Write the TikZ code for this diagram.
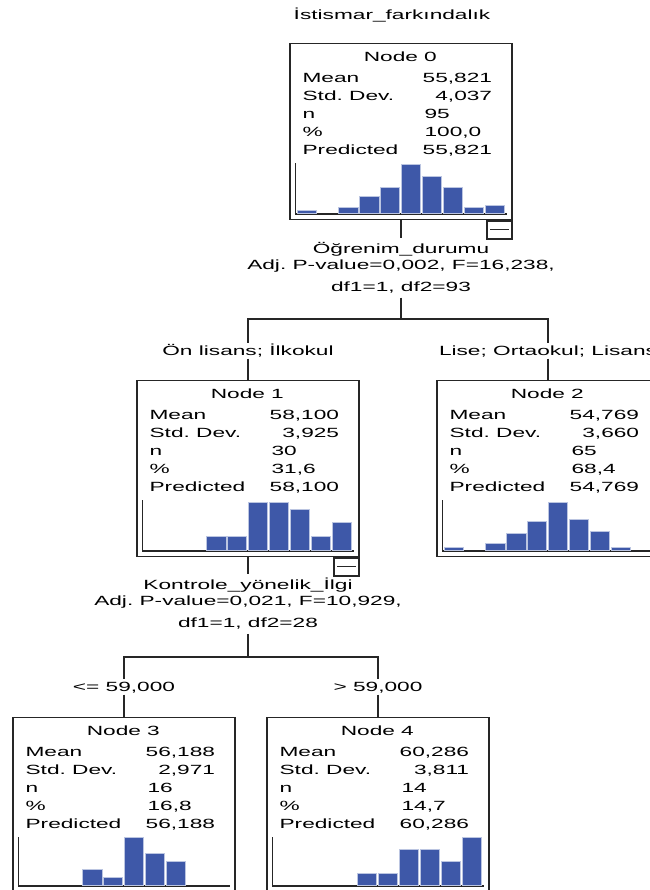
\documentclass[tikz,border=0pt]{standalone}
\usepackage{fontspec}
\setmainfont{Liberation Sans}[FakeStretch=1.7]
\usetikzlibrary{positioning}
\definecolor{barblue}{RGB}{62,88,168}
\frenchspacing

\begin{document}
\begin{tikzpicture}[
  x=0.75pt, y=-0.75pt,
  font=\fontsize{10}{12}\selectfont,
  box/.style   ={draw=black!85, line width=1pt, minimum width=166.5pt, minimum height=132pt, anchor=north, inner sep=0pt},
  minus/.style ={draw=black!85, line width=0.9pt, minimum width=18.75pt, minimum height=13.5pt, anchor=north east, inner sep=0pt,
                 path picture={\draw[line width=0.8pt] ([xshift=2.5pt]path picture bounding box.west) -- ([xshift=-2.5pt]path picture bounding box.east);}},
  txt/.style   ={inner sep=0pt, text height=7.2pt, text depth=0pt},
  ttl/.style   ={txt},
  key/.style   ={txt, anchor=west},
  val/.style   ={txt, anchor=east},
  cnt/.style   ={txt, anchor=west},
  cond/.style  ={txt, inner sep=2pt},
  split/.style ={align=center, inner sep=3pt},
  edge/.style  ={draw=black!85, line width=1pt},
  axis/.style  ={draw=black!85, line width=0.8pt},
  bar/.style   ={fill=barblue, draw=barblue!35, line width=0.4pt}
]

\fill[white] (0,0) rectangle (650,890);
\useasboundingbox (0,0) rectangle (650,890);
\clip (0,0) rectangle (650,890);

% ---- Root ---------------------------------------------------------------------
\node[txt] (title) at (392,15) {İstismar\_farkındalık};
\node[box] (n0) at (401,43) {};
\node[minus] (m0) at (n0.south east) {};

\begin{scope}[shift={(n0.north west)}]
  \node[ttl] (t0) at (111,14) {Node 0};
  \foreach \lab [count=\i] in {Mean,Std. Dev.,n,\%,Predicted}
    \node[key] (k0-\i) at (13,17+18*\i) {\lab};
  \node[val] (v0-1) at (203,35)  {55,821};
  \node[val] (v0-2) at (203,53)  {4,037};
  \node[cnt] (v0-3) at (135,71)  {95};
  \node[cnt] (v0-4) at (135,89)  {100,0};
  \node[val] (v0-5) at (203,107) {55,821};
  \draw[axis] (6,120) -- (6,171) -- (218,171);
  \foreach \b/\h in {0/2.7,2/6,3/16.7,4/25.7,5/49,6/36.7,7/25.7,8/6,9/7.7}
    \draw[bar] (7.5+20.9*\b,170) rectangle ++(19.3,-\h);
\end{scope}

% ---- First split --------------------------------------------------------------
\node[split] (s0) at (401,268) {Öğrenim\_durumu\\Adj. P-value=0,002, F=16,238,\\[4.5pt]df1=1, df2=93};
\coordinate (j0) at (401,319);
\node[cond] (b1) at (248,351) {Ön lisans; İlkokul};
\node[cond] (b2) at (548,351) {Lise; Ortaokul; Lisans};

\draw[edge] (n0.south) -- (s0.north);
\draw[edge] (s0.south) -- (j0) -| (b1.north);
\draw[edge] (j0) -| (b2.north);

\node[box] (n1) at (248,380) {};
\node[minus] (m1) at (n1.south east) {};
\node[box] (n2) at (548,380) {};
\draw[edge] (b1.south) -- (n1.north);
\draw[edge] (b2.south) -- (n2.north);

\begin{scope}[shift={(n1.north west)}]
  \node[ttl] (t1) at (111,14) {Node 1};
  \foreach \lab [count=\i] in {Mean,Std. Dev.,n,\%,Predicted}
    \node[key] (k1-\i) at (13,17+18*\i) {\lab};
  \node[val] (v1-1) at (203,35)  {58,100};
  \node[val] (v1-2) at (203,53)  {3,925};
  \node[cnt] (v1-3) at (135,71)  {30};
  \node[cnt] (v1-4) at (135,89)  {31,6};
  \node[val] (v1-5) at (203,107) {58,100};
  \draw[axis] (6,120) -- (6,171) -- (218,171);
  \foreach \b/\h in {3/13.7,4/13.7,5/48,6/48,7/41.1,8/13.7,9/27.4}
    \draw[bar] (7.5+20.9*\b,170) rectangle ++(19.3,-\h);
\end{scope}

\begin{scope}[shift={(n2.north west)}]
  \node[ttl] (t2) at (111,14) {Node 2};
  \foreach \lab [count=\i] in {Mean,Std. Dev.,n,\%,Predicted}
    \node[key] (k2-\i) at (13,17+18*\i) {\lab};
  \node[val] (v2-1) at (203,35)  {54,769};
  \node[val] (v2-2) at (203,53)  {3,660};
  \node[cnt] (v2-3) at (135,71)  {65};
  \node[cnt] (v2-4) at (135,89)  {68,4};
  \node[val] (v2-5) at (203,107) {54,769};
  \draw[axis] (6,120) -- (6,171) -- (218,171);
  \foreach \b/\h in {0/2.4,2/7.2,3/16.8,4/28.8,5/48,6/31.2,7/19.2,8/2.4}
    \draw[bar] (7.5+20.9*\b,170) rectangle ++(19.3,-\h);
\end{scope}

% ---- Second split -------------------------------------------------------------
\node[split] (s1) at (248,604) {Kontrole\_yönelik\_İlgi\\Adj. P-value=0,021, F=10,929,\\[4.5pt]df1=1, df2=28};
\coordinate (j1) at (248,657);
\node[cond] (b3) at (124,687) {<= 59,000};
\node[cond] (b4) at (378,687) {> 59,000};

\draw[edge] (n1.south) -- (s1.north);
\draw[edge] (s1.south) -- (j1) -| (b3.north);
\draw[edge] (j1) -| (b4.north);

\node[box] (n3) at (124,717) {};
\node[box] (n4) at (378,717) {};
\draw[edge] (b3.south) -- (n3.north);
\draw[edge] (b4.south) -- (n4.north);

\begin{scope}[shift={(n3.north west)}]
  \node[ttl] (t3) at (111,14) {Node 3};
  \foreach \lab [count=\i] in {Mean,Std. Dev.,n,\%,Predicted}
    \node[key] (k3-\i) at (13,17+18*\i) {\lab};
  \node[val] (v3-1) at (203,35)  {56,188};
  \node[val] (v3-2) at (203,53)  {2,971};
  \node[cnt] (v3-3) at (135,71)  {16};
  \node[cnt] (v3-4) at (135,89)  {16,8};
  \node[val] (v3-5) at (203,107) {56,188};
  \draw[axis] (6,120) -- (6,169) -- (218,169);
  \foreach \b/\h in {3/16,4/8,5/48,6/32,7/24}
    \draw[bar] (7.5+20.9*\b,168) rectangle ++(19.3,-\h);
\end{scope}

\begin{scope}[shift={(n4.north west)}]
  \node[ttl] (t4) at (111,14) {Node 4};
  \foreach \lab [count=\i] in {Mean,Std. Dev.,n,\%,Predicted}
    \node[key] (k4-\i) at (13,17+18*\i) {\lab};
  \node[val] (v4-1) at (203,35)  {60,286};
  \node[val] (v4-2) at (203,53)  {3,811};
  \node[cnt] (v4-3) at (135,71)  {14};
  \node[cnt] (v4-4) at (135,89)  {14,7};
  \node[val] (v4-5) at (203,107) {60,286};
  \draw[axis] (6,120) -- (6,169) -- (218,169);
  \foreach \b/\h in {4/12,5/12,6/36,7/36,8/24,9/48}
    \draw[bar] (7.5+20.9*\b,168) rectangle ++(19.3,-\h);
\end{scope}

\end{tikzpicture}
\end{document}
